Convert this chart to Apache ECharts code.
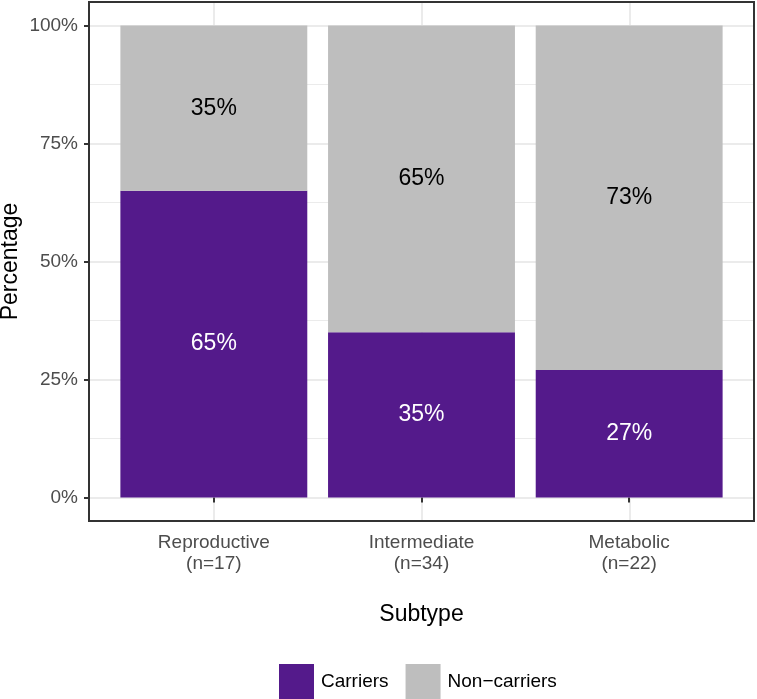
<!DOCTYPE html>
<html>
<head>
<meta charset="utf-8">
<script src="https://cdn.jsdelivr.net/npm/echarts@6/dist/echarts.min.js"></script>
<style>html,body{margin:0;padding:0;background:#fff}#c{width:757px;height:699px}</style>
</head>
<body>
<div id="c"></div>
<script>
var categories = ['Reproductive', 'Intermediate', 'Metabolic'];
var sampleSizes = ['(n=17)', '(n=34)', '(n=22)'];
var carriers = [65, 35, 27];
var nonCarriers = [35, 65, 73];
var yTicks = [0, 25, 50, 75, 100];
var yMinor = [12.5, 37.5, 62.5, 87.5];
var seriesNames = ['Carriers', 'Non\u2212carriers'];

var FONT = 'Liberation Sans, Arial, Helvetica, sans-serif';
var xPos = categories.map(function (c, i) { return i + 1; });

var gridLines = [];
xPos.forEach(function (x) { gridLines.push({ xAxis: x, lineStyle: { color: '#EBEBEB', width: 2, type: 'solid' } }); });
yTicks.forEach(function (y) { gridLines.push({ yAxis: y, lineStyle: { color: '#EBEBEB', width: 2, type: 'solid' } }); });
yMinor.forEach(function (y) { gridLines.push({ yAxis: y, lineStyle: { color: '#EBEBEB', width: 1, type: 'solid' } }); });

var border = { show: true, onZero: false, lineStyle: { color: '#333333', width: 2 } };
function frameAxis(extra) {
  return Object.assign({ type: 'value', gridIndex: 1, axisLine: border, axisTick: { show: false }, axisLabel: { show: false }, splitLine: { show: false } }, extra);
}

var chart = echarts.init(document.getElementById('c'));
chart.setOption({
  animation: false,
  textStyle: { fontFamily: FONT },
  grid: [
    { left: 110, right: 24, top: 2, bottom: 178, outerBoundsMode: 'none', containLabel: false },
    { left: 89, right: 3, top: 2, bottom: 178, outerBoundsMode: 'none', containLabel: false, show: true, borderColor: '#333333', borderWidth: 2, backgroundColor: 'rgba(0,0,0,0)', z: 5 }
  ],
  legend: {
    left: 279, top: 664, padding: 0, itemWidth: 35, itemHeight: 35, itemGap: 17, icon: 'rect',
    data: seriesNames,
    textStyle: { fontSize: 19, color: '#000', fontFamily: FONT, padding: [2, 0, 0, 2] }
  },
  xAxis: [
    {
      type: 'category', gridIndex: 0, data: categories, boundaryGap: true,
      name: 'Subtype', nameLocation: 'middle', nameGap: 82, nameMoveOverlap: false,
      nameTextStyle: { fontSize: 23, color: '#000', fontFamily: FONT },
      axisLine: { show: false },
      splitLine: { show: false },
      axisTick: { show: true, alignWithLabel: true, length: 5, lineStyle: { color: '#333333', width: 2 } },
      axisLabel: {
        margin: 11, fontSize: 19, lineHeight: 21, color: '#4D4D4D', fontFamily: FONT, interval: 0,
        formatter: function (v, i) { return v + '\n' + sampleSizes[i]; }
      }
    },
    frameAxis({ min: 0.4, max: 3.6, position: 'bottom' }),
    frameAxis({ min: 0.4, max: 3.6, position: 'top' })
  ],
  yAxis: [
    { type: 'value', gridIndex: 0, min: -5, max: 105, show: false },
    {
      type: 'value', gridIndex: 1, min: -5, max: 105, position: 'left',
      name: 'Percentage', nameLocation: 'middle', nameGap: 67, nameMoveOverlap: false,
      nameTextStyle: { fontSize: 23, color: '#000', fontFamily: FONT },
      axisLine: border,
      splitLine: { show: false },
      axisTick: { show: true, customValues: yTicks, length: 5, lineStyle: { color: '#333333', width: 2 } },
      axisLabel: { customValues: yTicks, margin: 11, fontSize: 19, color: '#4D4D4D', fontFamily: FONT, formatter: function (v) { return v + '%'; } }
    },
    frameAxis({ min: -5, max: 105, position: 'right' })
  ],
  series: [
    {
      type: 'scatter', xAxisIndex: 1, yAxisIndex: 1, data: [], z: 0, silent: true,
      markLine: { silent: true, z: 0, symbol: ['none', 'none'], label: { show: false }, data: gridLines, animation: false }
    },
    {
      name: seriesNames[0], type: 'bar', stack: 'total', z: 3, barWidth: '90%',
      xAxisIndex: 0, yAxisIndex: 0,
      data: carriers,
      itemStyle: { color: '#541A8B' },
      label: { show: true, position: 'inside', fontSize: 23, color: '#fff', fontFamily: FONT, formatter: function (p) { return p.value + '%'; } }
    },
    {
      name: seriesNames[1], type: 'bar', stack: 'total', z: 3, barWidth: '90%',
      xAxisIndex: 0, yAxisIndex: 0,
      data: nonCarriers,
      itemStyle: { color: '#BEBEBE' },
      label: { show: true, position: 'inside', fontSize: 23, color: '#000', fontFamily: FONT, formatter: function (p) { return p.value + '%'; } }
    }
  ]
});
</script>
</body>
</html>
